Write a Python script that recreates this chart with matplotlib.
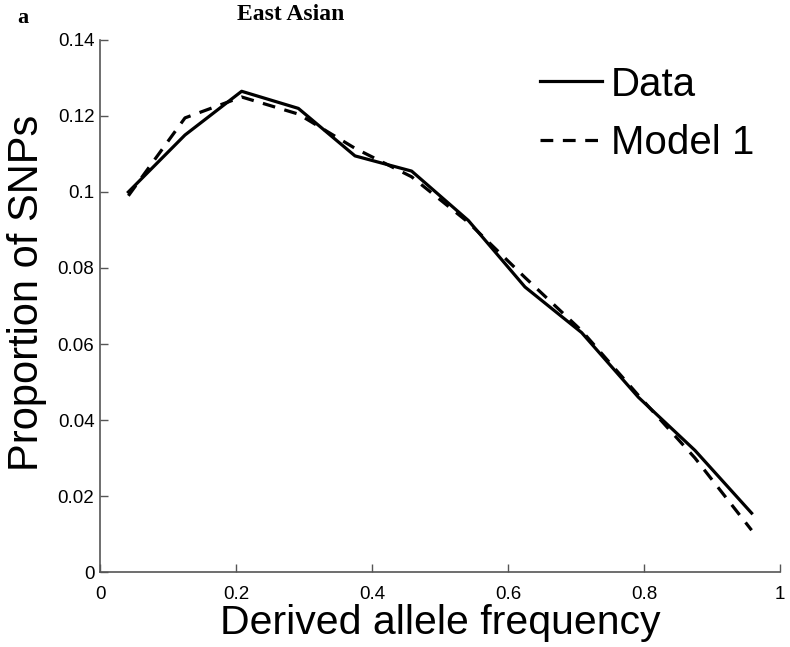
import numpy as np
import matplotlib.pyplot as plt

# bin centres of the derived allele frequency spectrum
freq = [0.0417, 0.125, 0.2083, 0.2917, 0.375, 0.4583,
        0.5417, 0.625, 0.7083, 0.7917, 0.875, 0.9583]
data_vals = [0.100, 0.115, 0.1265, 0.122, 0.1095, 0.1055,
             0.0925, 0.075, 0.063, 0.046, 0.032, 0.0155]
model_vals = [0.099, 0.1195, 0.125, 0.1205, 0.1115, 0.104,
              0.092, 0.0775, 0.0635, 0.0465, 0.030, 0.011]

xticks = [0, 0.2, 0.4, 0.6, 0.8, 1]
xticklabels = ['0', '0.2', '0.4', '0.6', '0.8', '1']
yticks = [0, 0.02, 0.04, 0.06, 0.08, 0.1, 0.12, 0.14]
yticklabels = ['0', '0.02', '0.04', '0.06', '0.08', '0.1', '0.12', '0.14']

plt.rcParams['font.family'] = ['Liberation Sans', 'DejaVu Sans']

fig = plt.figure(figsize=(7.9, 6.47), dpi=100)
ax = fig.add_axes([0.1266, 0.1159, 0.8607, 0.8223])

ax.plot(freq, data_vals, color='black', linewidth=2.3, label='Data')
ax.plot(freq, model_vals, color='black', linewidth=2.3, linestyle=(0, (4, 3)),
        label='Model 1')

ax.set_xlim(0, 1)
ax.set_ylim(0, 0.14)
ax.set_xticks(xticks)
ax.set_xticklabels(xticklabels)
ax.set_yticks(yticks)
ax.set_yticklabels(yticklabels)

for side in ['top', 'right']:
    ax.spines[side].set_visible(False)
for side in ['bottom', 'left']:
    ax.spines[side].set_color('#555555')
    ax.spines[side].set_linewidth(1.2)
ax.tick_params(direction='in', length=6, width=1, color='#555555',
               labelsize=13.5)
ax.tick_params(axis='x', pad=10)
ax.tick_params(axis='y', pad=4)

ax.set_xlabel('Derived allele frequency', fontsize=29.5, labelpad=1)
ax.set_ylabel('Proportion of SNPs', fontsize=30, labelpad=8, y=0.524)

leg = ax.legend(loc='upper right', frameon=False, fontsize=29,
                handlelength=1.55, handletextpad=0.22, labelspacing=0.5,
                bbox_to_anchor=(1.016, 1.02))

fig.text(0.0215, 0.9645, 'a', fontsize=16, fontweight='bold',
         family='Liberation Serif', va='baseline')
fig.text(0.368, 0.969, 'East Asian', fontsize=17, fontweight='bold',
         family='Liberation Serif', ha='center', va='baseline')

fig.savefig('out.png', dpi=100)
